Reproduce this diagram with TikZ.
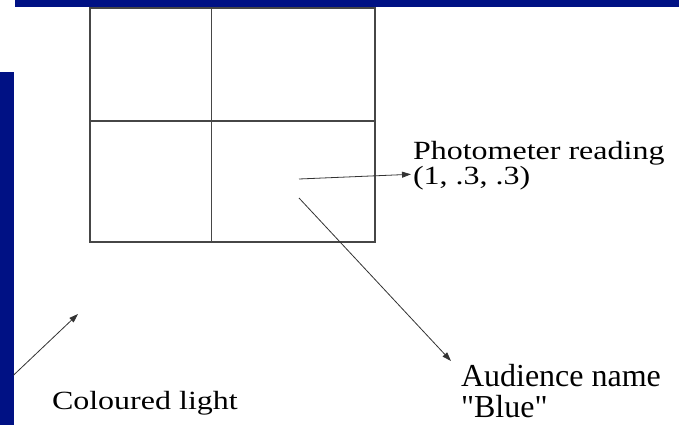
\documentclass[tikz,border=0pt]{standalone}
\usepackage{fontspec}
\setmainfont{Liberation Serif}[Ligatures=TeXOff]
\usetikzlibrary{arrows.meta}
\definecolor{navy}{RGB}{0,17,132}
\definecolor{gridgray}{RGB}{70,70,70}
\tikzset{
  bar/.style={fill=navy, draw=none},
  gridline/.style={draw=gridgray, line width=1.3pt},
  pointer/.style={draw=black!80, line width=0.8pt, -{Triangle[length=9pt,width=6pt]}},
  label/.style={anchor=base west, inner sep=0pt, outer sep=0pt}
}
\begin{document}
\begin{tikzpicture}[x=1pt, y=-1pt]
\useasboundingbox (0,0) rectangle (679,425);
% navy bars
\fill[bar] (15,0) rectangle (679,7.5);
\fill[bar] (0,72) rectangle (13.7,425);
% grid
\draw[gridline] (90,8) rectangle (375,242);
\draw[gridline] (211.5,8) -- (211.5,242);
\draw[gridline] (90,121) -- (375,121);
% labels
\node[label] (photo) at (413,159.5) {\scalebox{1}[0.82]{\fontsize{32}{28.66}\selectfont\begin{tabular}[t]{@{}l@{}}Photometer reading\\(1, .3, .3)\end{tabular}}};
\node[label] (aud) at (461,386.7) {\fontsize{32}{30}\selectfont\begin{tabular}[t]{@{}l@{}}Audience name\\"Blue"\end{tabular}};
\node[label] (light) at (52,409.3) {\scalebox{1}[0.82]{\fontsize{32}{30}\selectfont Coloured light}};
% connector endpoints
\coordinate (p1s) at (299,179);
\coordinate (p1e) at (411,174.3);
\coordinate (p2s) at (299,198);
\coordinate (p2e) at (451,361);
\coordinate (p3s) at (13.7,375);
\coordinate (p3e) at (78,314);
\draw[pointer] (p1s) -- (p1e);
\draw[pointer] (p2s) -- (p2e);
\draw[pointer] (p3s) -- (p3e);
\end{tikzpicture}
\end{document}
